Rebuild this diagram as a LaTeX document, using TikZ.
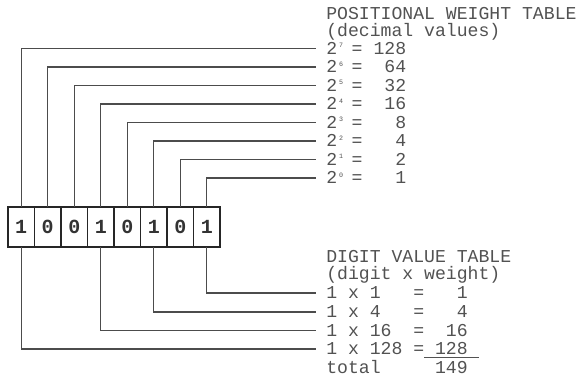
\documentclass[tikz,border=0pt]{standalone}
\usepackage{fontspec}
\newfontfamily\mono{Liberation Mono}
\newdimen\pxu \pxu=0.75pt
% weight row: 2^e = value, laid out on a fixed grid
\newcommand\wtext[2]{\makebox[20\pxu][l]{2\hspace{1.5pt}\raisebox{5pt}{\fontsize{5}{5}\selectfont #1}}\makebox[21.8\pxu]{=}\makebox[38.2\pxu][r]{#2}}
\tikzset{
  wire/.style={draw=black!70, line width=0.8pt},
  cell/.style={draw=black!85, line width=1.4pt, minimum width=19.875pt, minimum height=30pt,
    inner sep=0pt, outer sep=0pt, font=\mono\bfseries\fontsize{15}{15}\selectfont, text=black!80},
  label/.style={anchor=west, inner xsep=0pt, inner ysep=0pt, text height=8.6pt, text depth=0pt,
    font=\mono\fontsize{13.6}{13.6}\selectfont, text=black!68},
  rowtext/.style={label, inner xsep=7.5pt},
}
\begin{document}
\begin{tikzpicture}[x=0.75pt, y=-0.75pt]
\useasboundingbox (0,0) rectangle (577,378);

% the binary number, one cell per digit
\foreach \d [count=\i from 0] in {1,0,0,1,0,1,0,1}
  \node[cell] (c\i) at ({8+26.5*(\i+0.5)},227) {\d};

% positional weight table
\node[label] (wtitle) at (326,13.5) {POSITIONAL WEIGHT TABLE};
\node[label] (wsub) at (326,31) {(decimal values)};
\foreach \e/\v [count=\k from 0] in {7/128,6/64,5/32,4/16,3/8,2/4,1/2,0/1} {
  \node[rowtext] (w\e) at (316,{48.5+18.5*\k}) {\wtext{\e}{\v}};
  \draw[wire] (c\k.north) |- (w\e.west);
}

% digit value table
\node[label] (dtitle) at (326,256.5) {DIGIT VALUE TABLE};
\node[label] (dsub) at (326,274) {(digit x weight)};
\node[rowtext] (d1) at (316,293) {1~x~1~~~=~~~1};
\node[rowtext] (d4) at (316,312) {1~x~4~~~=~~~4};
\node[rowtext] (d16) at (316,330.5) {1~x~16~~=~~16};
\node[rowtext] (d128) at (316,349) {1~x~128~=\underline{~128~}};
\node[label] (total) at (326,367.5) {total~~~~~149};

\draw[wire] (c7.south) |- (d1.west);
\draw[wire] (c5.south) |- (d4.west);
\draw[wire] (c3.south) |- (d16.west);
\draw[wire] (c0.south) |- (d128.west);
\end{tikzpicture}
\end{document}
